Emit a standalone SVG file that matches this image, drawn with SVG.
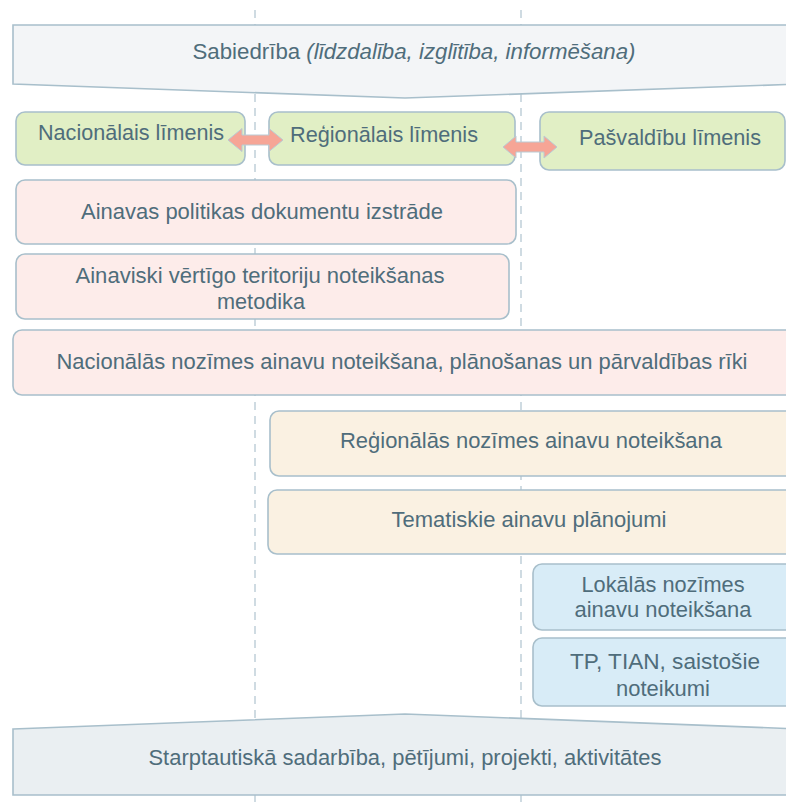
<svg xmlns="http://www.w3.org/2000/svg" width="786" height="802" viewBox="0 0 786 802">
<style>
.t{font-family:"Liberation Sans",Arial,sans-serif;font-size:21.5px;fill:#4f6d7b;text-anchor:middle}
.box{stroke:#a8bfcb;stroke-width:1.6}
.g{fill:#e1efc5}.p{fill:#fdecea}.y{fill:#faf1e2}.b{fill:#d8ecf7}
.guide{stroke:#cfdbe2;stroke-width:2;stroke-dasharray:8 6;fill:none}
.arr{fill:#f6a596;stroke:#b9cbd4;stroke-width:1}
</style>
<rect width="786" height="802" fill="#ffffff"/>
<g id="guides">
<line class="guide" x1="255" y1="10" x2="255" y2="802"/>
<line class="guide" x1="521" y1="10" x2="521" y2="802"/>
</g>
<g id="sabiedriba">
<path class="box" d="M13 25 H800 V84 L405 98 L13 84 Z" fill="#f3f5f7"/>
<text class="t" x="414" y="59" textLength="443" lengthAdjust="spacingAndGlyphs">Sabiedrība <tspan font-style="italic">(līdzdalība, izglītība, informēšana)</tspan></text>
</g>
<g id="nacionalais">
<rect class="box g" x="16" y="112" width="229" height="53" rx="9"/>
<text class="t" x="131" y="140" textLength="186" lengthAdjust="spacingAndGlyphs">Nacionālais līmenis</text>
</g>
<g id="regionalais">
<rect class="box g" x="269" y="112" width="246" height="53" rx="9"/>
<text class="t" x="384" y="142" textLength="188" lengthAdjust="spacingAndGlyphs">Reģionālais līmenis</text>
</g>
<g id="pasvaldibu">
<rect class="box g" x="540" y="112" width="245" height="58" rx="9"/>
<text class="t" x="670" y="145" textLength="182" lengthAdjust="spacingAndGlyphs">Pašvaldību līmenis</text>
</g>
<g id="connectors">
<path class="arr" d="M228 140 L242 128.5 V135 H269 V128.5 L283 140 L269 151.5 V145 H242 V151.5 Z"/>
<path class="arr" d="M503 147 L516 136 V142 H544 V136 L557 147 L544 158 V152 H516 V158 Z"/>
</g>
<g id="politika">
<rect class="box p" x="16" y="180" width="500" height="64" rx="9"/>
<text class="t" x="262" y="219" textLength="362" lengthAdjust="spacingAndGlyphs">Ainavas politikas dokumentu izstrāde</text>
</g>
<g id="metodika">
<rect class="box p" x="16" y="254" width="493" height="65" rx="9"/>
<text class="t" x="260" y="283" textLength="369" lengthAdjust="spacingAndGlyphs">Ainaviski vērtīgo teritoriju noteikšanas</text>
<text class="t" x="261" y="309" textLength="88" lengthAdjust="spacingAndGlyphs">metodika</text>
</g>
<g id="nacionalas">
<rect class="box p" x="13" y="330" width="790" height="65" rx="9"/>
<text class="t" x="402" y="369" textLength="691" lengthAdjust="spacingAndGlyphs">Nacionālās nozīmes ainavu noteikšana, plānošanas un pārvaldības rīki</text>
</g>
<g id="regionalas">
<rect class="box y" x="270" y="411" width="530" height="65" rx="9"/>
<text class="t" x="531" y="448" textLength="382" lengthAdjust="spacingAndGlyphs">Reģionālās nozīmes ainavu noteikšana</text>
</g>
<g id="tematiskie">
<rect class="box y" x="268" y="490" width="532" height="64" rx="9"/>
<text class="t" x="529" y="527" textLength="275" lengthAdjust="spacingAndGlyphs">Tematiskie ainavu plānojumi</text>
</g>
<g id="lokalas">
<rect class="box b" x="533" y="564" width="267" height="66" rx="9"/>
<text class="t" x="663" y="592" textLength="163" lengthAdjust="spacingAndGlyphs">Lokālās nozīmes</text>
<text class="t" x="663" y="617" textLength="177" lengthAdjust="spacingAndGlyphs">ainavu noteikšana</text>
</g>
<g id="tp">
<rect class="box b" x="533" y="638" width="267" height="68" rx="9"/>
<text class="t" x="665" y="669" textLength="190" lengthAdjust="spacingAndGlyphs">TP, TIAN, saistošie</text>
<text class="t" x="663" y="696" textLength="94" lengthAdjust="spacingAndGlyphs">noteikumi</text>
</g>
<g id="starptautiska">
<path class="box" d="M13 729 L405 714 L800 729 V795 H13 Z" fill="#eaeff2"/>
<text class="t" x="405" y="765" textLength="513" lengthAdjust="spacingAndGlyphs">Starptautiskā sadarbība, pētījumi, projekti, aktivitātes</text>
</g>
</svg>
